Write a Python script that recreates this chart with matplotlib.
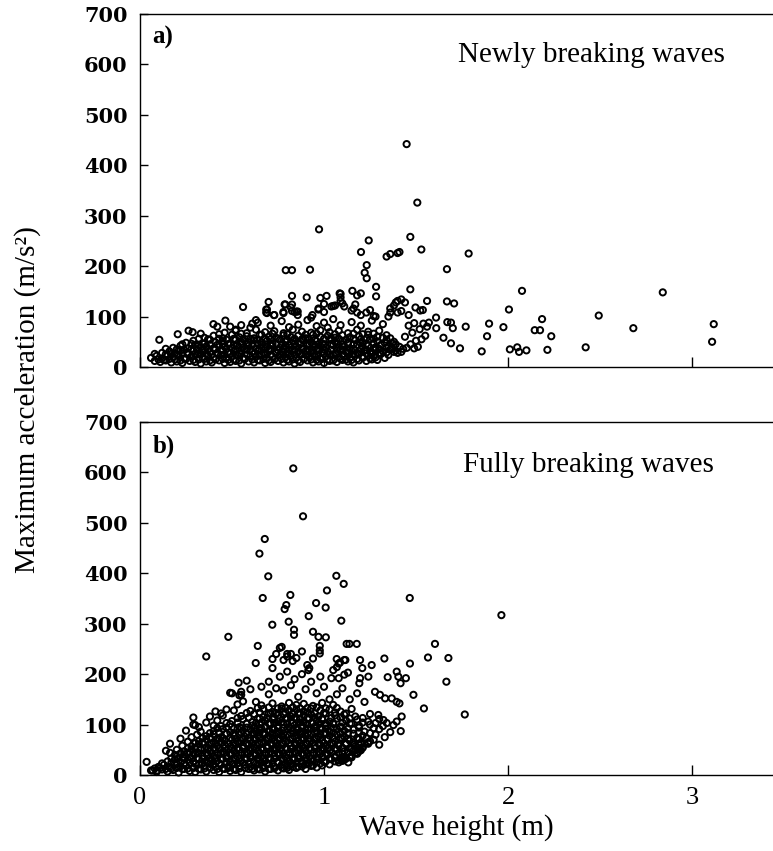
import matplotlib.pyplot as plt

# === data: (wave height [m], max acceleration [m/s2]) ===
# a) newly breaking waves - dense band
newly_band = [
    (0.08, 12), (0.11, 10), (0.14, 13), (0.17, 9), (0.20, 11), (0.23, 8), (0.27, 12), (0.30, 10),
    (0.33, 7), (0.36, 11), (0.39, 9), (0.43, 13), (0.46, 8), (0.49, 10), (0.52, 12), (0.55, 7),
    (0.59, 11), (0.62, 9), (0.65, 13), (0.68, 8), (0.71, 10), (0.75, 12), (0.78, 9), (0.81, 11),
    (0.84, 7), (0.87, 10), (0.91, 13), (0.94, 9), (0.97, 11), (1.00, 8), (1.03, 12), (1.07, 10),
    (1.10, 14), (1.13, 11), (1.16, 9), (1.19, 13), (1.23, 12), (1.26, 15), (1.29, 14),
    (0.10, 15), (0.13, 14), (0.16, 16), (0.19, 15), (0.22, 13), (0.25, 16), (0.29, 14), (0.32, 15),
    (0.35, 16), (0.38, 13), (0.41, 15), (0.45, 16), (0.48, 14), (0.51, 15), (0.54, 13), (0.57, 16),
    (0.61, 15), (0.64, 14), (0.67, 16), (0.70, 13), (0.73, 15), (0.77, 16), (0.80, 14), (0.83, 15),
    (0.86, 13), (0.89, 16), (0.93, 15), (0.96, 14), (0.99, 16), (1.02, 15), (1.05, 13), (1.09, 16),
    (1.12, 15), (1.15, 14), (1.18, 16), (1.21, 18), (1.25, 17), (1.28, 19), (1.33, 18),
    (0.06, 18), (0.09, 22), (0.12, 17), (0.15, 24), (0.18, 19), (0.21, 23), (0.24, 17), (0.28, 21),
    (0.31, 25), (0.34, 18), (0.37, 22), (0.40, 19), (0.44, 24), (0.47, 17), (0.50, 21), (0.53, 23),
    (0.56, 18), (0.60, 22), (0.63, 20), (0.66, 25), (0.69, 17), (0.72, 21), (0.76, 24), (0.79, 19),
    (0.82, 22), (0.85, 18), (0.88, 25), (0.92, 20), (0.95, 23), (0.98, 17), (1.01, 21), (1.05, 24),
    (1.08, 19), (1.11, 22), (1.14, 18), (1.17, 25), (1.21, 20), (1.24, 23), (1.27, 21), (1.31, 26),
    (1.35, 24), (1.40, 28),
    (0.08, 26), (0.14, 25), (0.17, 26), (0.20, 25), (0.23, 27), (0.26, 25), (0.30, 26), (0.33, 25),
    (0.36, 27), (0.39, 25), (0.42, 26), (0.46, 25), (0.49, 27), (0.52, 25), (0.55, 26), (0.58, 25),
    (0.62, 27), (0.65, 25), (0.68, 26), (0.71, 25), (0.74, 27), (0.78, 25), (0.81, 26), (0.84, 25),
    (0.87, 27), (0.90, 25), (0.94, 26), (0.97, 25), (1.00, 27), (1.03, 25), (1.07, 26), (1.10, 25),
    (1.13, 27), (1.16, 25), (1.19, 26), (1.23, 27), (1.26, 26), (1.30, 28), (1.34, 29), (1.38, 30),
    (0.12, 28), (0.16, 31), (0.19, 27), (0.22, 33), (0.26, 29), (0.29, 32), (0.32, 27), (0.35, 34),
    (0.38, 30), (0.42, 28), (0.45, 33), (0.48, 29), (0.51, 31), (0.54, 27), (0.58, 34), (0.61, 30),
    (0.64, 32), (0.67, 28), (0.70, 33), (0.74, 29), (0.77, 31), (0.80, 27), (0.83, 34), (0.86, 30),
    (0.90, 32), (0.93, 28), (0.96, 33), (0.99, 29), (1.02, 31), (1.06, 27), (1.09, 34), (1.12, 30),
    (1.15, 32), (1.18, 28), (1.22, 33), (1.25, 30), (1.28, 34), (1.32, 31), (1.36, 35), (1.39, 32),
    (1.43, 36),
    (0.14, 36), (0.20, 35), (0.24, 34), (0.28, 36), (0.31, 35), (0.34, 33), (0.37, 36), (0.41, 35),
    (0.44, 34), (0.47, 36), (0.52, 35), (0.55, 33), (0.57, 36), (0.60, 35), (0.65, 34), (0.68, 36),
    (0.71, 35), (0.75, 33), (0.78, 36), (0.81, 35), (0.84, 34), (0.88, 36), (0.91, 35), (0.94, 33),
    (0.97, 36), (1.00, 35), (1.04, 34), (1.07, 36), (1.10, 35), (1.13, 33), (1.16, 36), (1.20, 35),
    (1.23, 34), (1.27, 37), (1.30, 36), (1.34, 38), (1.37, 37), (1.41, 40),
    (0.18, 38), (0.22, 42), (0.26, 37), (0.30, 44), (0.33, 39), (0.36, 41), (0.40, 37), (0.43, 44),
    (0.46, 40), (0.50, 38), (0.53, 43), (0.56, 39), (0.59, 42), (0.63, 37), (0.66, 44), (0.69, 40),
    (0.72, 42), (0.76, 38), (0.79, 43), (0.82, 39), (0.85, 41), (0.89, 37), (0.92, 44), (0.95, 40),
    (0.98, 42), (1.01, 38), (1.05, 43), (1.08, 39), (1.11, 41), (1.14, 37), (1.18, 44), (1.21, 40),
    (1.24, 42), (1.28, 39), (1.31, 44), (1.35, 41), (1.39, 45),
    (0.23, 45), (0.28, 46), (0.32, 44), (0.35, 46), (0.38, 45), (0.42, 44), (0.45, 46), (0.48, 45),
    (0.51, 44), (0.55, 46), (0.58, 45), (0.61, 44), (0.64, 46), (0.68, 45), (0.71, 44), (0.74, 46),
    (0.77, 45), (0.81, 44), (0.84, 46), (0.87, 45), (0.91, 44), (0.94, 46), (0.97, 45), (1.00, 44),
    (1.04, 46), (1.07, 45), (1.10, 44), (1.13, 46), (1.16, 45), (1.20, 47), (1.23, 46), (1.27, 47),
    (1.33, 48), (1.37, 47),
    (0.25, 48), (0.29, 52), (0.34, 47), (0.38, 54), (0.41, 49), (0.45, 51), (0.49, 47), (0.52, 54),
    (0.55, 50), (0.59, 48), (0.62, 53), (0.66, 49), (0.69, 52), (0.72, 47), (0.76, 54), (0.79, 50),
    (0.83, 52), (0.86, 48), (0.89, 53), (0.93, 49), (0.96, 51), (0.99, 47), (1.03, 54), (1.06, 50),
    (1.10, 52), (1.13, 48), (1.17, 53), (1.21, 49), (1.25, 55), (1.29, 51), (1.34, 54), (1.38, 50),
    (0.32, 56), (0.37, 55), (0.43, 56), (0.47, 54), (0.51, 56), (0.56, 55), (0.60, 56), (0.64, 54),
    (0.68, 56), (0.71, 55), (0.75, 56), (0.80, 54), (0.84, 56), (0.88, 55), (0.91, 56), (0.95, 54),
    (1.00, 56), (1.04, 55), (1.08, 56), (1.12, 54), (1.16, 56), (1.20, 55), (1.23, 57), (1.27, 56),
    (1.32, 58), (1.36, 57),
    (0.35, 58), (0.40, 62), (0.45, 57), (0.50, 64), (0.54, 59), (0.58, 61), (0.62, 57), (0.66, 64),
    (0.70, 60), (0.74, 58), (0.78, 63), (0.82, 59), (0.86, 62), (0.90, 57), (0.94, 64), (0.98, 60),
    (1.02, 62), (1.06, 58), (1.10, 63), (1.14, 59), (1.19, 61), (1.24, 64), (1.29, 60), (1.34, 63),
    (0.43, 65), (0.55, 66), (0.65, 64), (0.72, 66), (0.80, 65), (0.90, 64), (0.96, 66), (1.06, 65),
    (1.16, 66), (1.21, 65), (1.27, 66),
    (0.46, 68), (0.52, 72), (0.58, 67), (0.63, 74), (0.68, 69), (0.73, 71), (0.78, 67), (0.83, 74),
    (0.88, 70), (0.93, 68), (0.98, 73), (1.03, 69), (1.08, 72), (1.13, 67), (1.18, 74), (1.24, 70),
    (1.30, 72),
    (0.42, 80), (0.55, 83), (0.64, 88), (0.71, 82), (0.77, 91), (0.86, 84), (0.91, 93), (0.96, 81),
    (1.00, 88), (1.05, 95), (1.09, 83), (1.15, 89), (1.20, 82), (1.26, 92), (1.32, 85), (0.60, 78),
    (0.81, 79), (1.02, 78),
    (1.42, 30), (1.45, 38), (1.47, 45), (1.50, 52), (1.44, 60), (1.48, 68), (1.52, 75), (1.46, 82),
    (1.55, 62), (1.51, 40), (1.53, 55), (1.49, 87),
]
# a) points standing out from the band
newly_scatter = [
    (0.686, 114), (0.686, 108), (0.728, 103), (0.779, 109), (0.79, 124), (0.826, 124), (0.826, 111),
    (0.857, 110), (0.857, 103), (0.937, 103), (0.97, 114), (1.00, 109), (1.00, 125), (1.04, 120),
    (1.05, 121), (1.09, 131), (1.10, 126), (1.11, 120), (1.15, 112), (1.16, 116), (1.17, 124),
    (1.18, 108), (1.20, 103), (1.23, 108), (1.25, 113), (1.28, 100), (1.27, 101), (1.36, 108),
    (1.40, 108), (1.42, 111), (1.46, 103),
    (0.205, 65), (0.264, 72), (0.286, 69), (0.33, 66), (0.399, 85), (0.464, 92), (0.49, 80),
    (0.52, 74), (0.61, 86), (0.63, 93), (0.69, 114), (0.69, 107), (0.73, 103), (0.786, 124),
    (0.78, 107), (0.82, 118), (0.84, 109), (0.85, 110), (0.93, 98), (0.98, 137), (0.97, 116),
    (1.06, 122), (1.09, 145), (1.09, 138),
]
newly_outliers = [
    (1.449, 442), (1.507, 326), (0.973, 273), (1.469, 258), (1.243, 251), (1.201, 228), (1.529, 233),
    (1.34, 219), (1.36, 224), (1.40, 226), (1.41, 228), (1.786, 225), (1.232, 202), (1.221, 187),
    (1.232, 176), (0.792, 192), (0.826, 192), (0.924, 193), (1.668, 194), (0.560, 119), (0.105, 54),
    (2.076, 151), (2.005, 114), (1.469, 154), (1.283, 159), (1.154, 151), (1.085, 146), (0.826, 141),
    (0.906, 138), (1.014, 141), (0.699, 129), (1.18, 142), (1.20, 146), (1.283, 140), (1.560, 131),
    (1.668, 130), (1.707, 126), (1.609, 98), (1.61, 77), (1.67, 89), (1.69, 88), (1.70, 77),
    (1.77, 80), (1.897, 86), (1.975, 79), (1.886, 61), (1.649, 58), (1.69, 47), (1.739, 37),
    (1.857, 31), (2.01, 35), (2.05, 39), (2.06, 30), (2.10, 33), (1.49, 37), (1.56, 80), (1.54, 86),
    (1.57, 88), (1.497, 118), (1.523, 112), (1.537, 113), (1.40, 131), (1.42, 134), (1.44, 128),
    (1.35, 100), (1.36, 116), (1.38, 122), (1.39, 128), (2.841, 148), (2.493, 102), (2.185, 95),
    (2.145, 73), (2.174, 73), (2.235, 61), (2.681, 77), (3.118, 85), (3.109, 50), (2.422, 39),
    (2.214, 34),
]

# b) fully breaking waves - dense band
fully_band = [
    (0.06, 9), (0.09, 6), (0.12, 11), (0.15, 7), (0.18, 10), (0.21, 5), (0.24, 12), (0.27, 8),
    (0.30, 6), (0.33, 11), (0.36, 7), (0.40, 10), (0.43, 6), (0.46, 12), (0.49, 8), (0.52, 10),
    (0.55, 6), (0.59, 12), (0.62, 9), (0.65, 11), (0.68, 7), (0.71, 12), (0.75, 9), (0.78, 13),
    (0.81, 10), (0.85, 14), (0.90, 12), (0.96, 15),
    (0.08, 13), (0.11, 14), (0.14, 12), (0.17, 13), (0.20, 14), (0.23, 12), (0.26, 13), (0.29, 14),
    (0.32, 12), (0.35, 13), (0.38, 14), (0.42, 12), (0.45, 13), (0.48, 14), (0.51, 12), (0.54, 13),
    (0.57, 14), (0.61, 12), (0.64, 13), (0.67, 14), (0.70, 12), (0.73, 13), (0.77, 15), (0.80, 14),
    (0.83, 16), (0.88, 17), (0.93, 18), (0.99, 19),
    (0.10, 16), (0.13, 20), (0.16, 15), (0.19, 22), (0.22, 17), (0.25, 19), (0.29, 15), (0.32, 21),
    (0.35, 18), (0.38, 22), (0.41, 16), (0.44, 20), (0.48, 17), (0.51, 22), (0.54, 18), (0.57, 20),
    (0.60, 16), (0.64, 21), (0.67, 18), (0.70, 22), (0.73, 17), (0.77, 20), (0.80, 18), (0.83, 22),
    (0.86, 17), (0.90, 21), (0.94, 19), (0.98, 23), (1.03, 21), (1.08, 25),
    (0.12, 23), (0.17, 24), (0.20, 22), (0.24, 23), (0.27, 24), (0.30, 22), (0.34, 23), (0.37, 24),
    (0.40, 22), (0.43, 23), (0.47, 24), (0.50, 22), (0.53, 23), (0.56, 24), (0.59, 22), (0.63, 23),
    (0.66, 24), (0.69, 22), (0.72, 23), (0.75, 24), (0.79, 22), (0.82, 23), (0.85, 24), (0.88, 22),
    (0.92, 23), (0.96, 25), (1.00, 26), (1.06, 27), (1.10, 28),
    (0.15, 27), (0.19, 31), (0.22, 25), (0.26, 30), (0.29, 27), (0.32, 32), (0.36, 26), (0.39, 30),
    (0.42, 28), (0.45, 32), (0.49, 26), (0.52, 31), (0.55, 28), (0.58, 32), (0.62, 26), (0.65, 30),
    (0.68, 28), (0.71, 32), (0.75, 26), (0.78, 31), (0.81, 28), (0.84, 32), (0.88, 27), (0.91, 30),
    (0.94, 28), (0.97, 32), (1.01, 27), (1.04, 31), (1.08, 29), (1.12, 33),
    (0.17, 33), (0.21, 34), (0.24, 32), (0.28, 33), (0.31, 34), (0.34, 32), (0.38, 33), (0.41, 34),
    (0.44, 32), (0.47, 33), (0.51, 34), (0.54, 32), (0.57, 33), (0.60, 34), (0.64, 32), (0.67, 33),
    (0.70, 34), (0.73, 32), (0.77, 33), (0.80, 34), (0.83, 32), (0.86, 33), (0.90, 34), (0.93, 32),
    (0.96, 33), (0.99, 34), (1.03, 33), (1.06, 35), (1.10, 36), (1.14, 35),
    (0.20, 37), (0.24, 41), (0.27, 35), (0.30, 42), (0.34, 38), (0.37, 40), (0.40, 36), (0.44, 42),
    (0.47, 38), (0.50, 41), (0.53, 36), (0.57, 42), (0.60, 38), (0.63, 40), (0.66, 36), (0.70, 42),
    (0.73, 38), (0.76, 41), (0.79, 36), (0.83, 42), (0.86, 38), (0.89, 40), (0.92, 36), (0.96, 42),
    (0.99, 38), (1.02, 41), (1.06, 37), (1.10, 42), (1.15, 39),
    (0.22, 43), (0.26, 44), (0.29, 42), (0.32, 43), (0.36, 44), (0.39, 42), (0.42, 43), (0.46, 44),
    (0.49, 42), (0.52, 43), (0.55, 44), (0.59, 42), (0.62, 43), (0.65, 44), (0.68, 42), (0.72, 43),
    (0.75, 44), (0.78, 42), (0.81, 43), (0.85, 44), (0.88, 42), (0.91, 43), (0.94, 44), (0.98, 42),
    (1.01, 43), (1.04, 44), (1.08, 43), (1.13, 45), (1.18, 44),
    (0.24, 47), (0.28, 51), (0.31, 45), (0.35, 52), (0.38, 48), (0.41, 50), (0.45, 46), (0.48, 52),
    (0.51, 48), (0.54, 50), (0.58, 45), (0.61, 52), (0.64, 48), (0.67, 50), (0.71, 46), (0.74, 52),
    (0.77, 48), (0.80, 51), (0.84, 46), (0.87, 52), (0.90, 48), (0.93, 50), (0.97, 46), (1.00, 52),
    (1.03, 48), (1.07, 51), (1.11, 47), (1.15, 52), (1.20, 49),
    (0.26, 53), (0.30, 54), (0.33, 52), (0.37, 53), (0.40, 54), (0.43, 52), (0.46, 53), (0.50, 54),
    (0.53, 52), (0.56, 53), (0.60, 54), (0.63, 52), (0.66, 53), (0.69, 54), (0.73, 52), (0.76, 53),
    (0.79, 54), (0.82, 52), (0.86, 53), (0.89, 54), (0.92, 52), (0.95, 53), (0.99, 54), (1.02, 52),
    (1.06, 53), (1.10, 54), (1.14, 53), (1.18, 55), (1.21, 54),
    (0.28, 57), (0.32, 61), (0.36, 55), (0.39, 62), (0.42, 58), (0.46, 60), (0.49, 56), (0.52, 62),
    (0.56, 58), (0.59, 60), (0.62, 55), (0.65, 62), (0.69, 58), (0.72, 60), (0.75, 56), (0.78, 62),
    (0.82, 58), (0.85, 61), (0.88, 56), (0.91, 62), (0.95, 58), (0.98, 60), (1.01, 56), (1.05, 62),
    (1.08, 58), (1.12, 61), (1.17, 57), (1.22, 62),
    (0.30, 63), (0.34, 64), (0.38, 62), (0.41, 63), (0.44, 64), (0.48, 62), (0.51, 63), (0.54, 64),
    (0.58, 62), (0.61, 63), (0.64, 64), (0.67, 62), (0.71, 63), (0.74, 64), (0.77, 62), (0.81, 63),
    (0.84, 64), (0.87, 62), (0.90, 63), (0.94, 64), (0.97, 62), (1.00, 63), (1.04, 64), (1.08, 62),
    (1.12, 63), (1.16, 64), (1.20, 63), (1.24, 65),
    (0.32, 67), (0.36, 71), (0.40, 65), (0.43, 72), (0.46, 68), (0.50, 70), (0.53, 66), (0.56, 72),
    (0.60, 68), (0.63, 70), (0.66, 65), (0.70, 72), (0.73, 68), (0.76, 70), (0.79, 66), (0.83, 72),
    (0.86, 68), (0.89, 71), (0.92, 66), (0.96, 72), (0.99, 68), (1.02, 70), (1.06, 66), (1.10, 72),
    (1.14, 68), (1.19, 71), (1.25, 67),
    (0.34, 73), (0.38, 74), (0.42, 72), (0.45, 73), (0.49, 74), (0.52, 72), (0.55, 73), (0.59, 74),
    (0.62, 72), (0.65, 73), (0.69, 74), (0.72, 72), (0.75, 73), (0.78, 74), (0.82, 72), (0.85, 73),
    (0.88, 74), (0.92, 72), (0.95, 73), (0.98, 74), (1.02, 72), (1.05, 73), (1.09, 74), (1.13, 72),
    (1.18, 74), (1.23, 73),
    (0.36, 77), (0.40, 81), (0.44, 75), (0.47, 82), (0.51, 78), (0.54, 80), (0.57, 76), (0.61, 82),
    (0.64, 78), (0.67, 80), (0.71, 75), (0.74, 82), (0.77, 78), (0.80, 80), (0.84, 76), (0.87, 82),
    (0.90, 78), (0.93, 81), (0.97, 76), (1.00, 82), (1.03, 78), (1.07, 80), (1.11, 76), (1.16, 82),
    (1.21, 78), (1.28, 80),
    (0.38, 83), (0.43, 84), (0.47, 82), (0.51, 83), (0.55, 84), (0.58, 82), (0.62, 83), (0.65, 84),
    (0.68, 82), (0.72, 83), (0.75, 84), (0.78, 82), (0.82, 83), (0.85, 84), (0.88, 82), (0.91, 83),
    (0.95, 84), (0.98, 82), (1.01, 83), (1.05, 84), (1.09, 82), (1.13, 83), (1.19, 84), (1.25, 83),
    (0.40, 87), (0.45, 91), (0.49, 85), (0.53, 92), (0.56, 88), (0.60, 90), (0.63, 86), (0.66, 92),
    (0.70, 88), (0.73, 90), (0.76, 85), (0.80, 92), (0.83, 88), (0.86, 90), (0.89, 86), (0.93, 92),
    (0.96, 88), (0.99, 91), (1.03, 86), (1.07, 92), (1.11, 88), (1.16, 90), (1.22, 86), (1.30, 91),
    (0.42, 93), (0.47, 94), (0.51, 92), (0.55, 93), (0.58, 94), (0.62, 92), (0.65, 93), (0.68, 94),
    (0.72, 92), (0.75, 93), (0.78, 94), (0.82, 92), (0.85, 93), (0.88, 94), (0.91, 92), (0.95, 93),
    (0.98, 94), (1.01, 92), (1.05, 93), (1.09, 94), (1.13, 92), (1.19, 94), (1.27, 93),
    (0.44, 97), (0.49, 101), (0.54, 95), (0.58, 102), (0.61, 98), (0.65, 100), (0.68, 96), (0.71, 102),
    (0.75, 98), (0.78, 100), (0.81, 95), (0.85, 102), (0.88, 98), (0.91, 100), (0.95, 96), (0.98, 102),
    (1.01, 98), (1.05, 101), (1.09, 96), (1.14, 102), (1.19, 98), (1.25, 100), (1.32, 97),
    (0.47, 103), (0.53, 104), (0.58, 102), (0.63, 103), (0.66, 104), (0.70, 102), (0.73, 103),
    (0.77, 104), (0.80, 102), (0.83, 103), (0.87, 104), (0.90, 102), (0.94, 103), (0.97, 104),
    (1.01, 102), (1.05, 103), (1.10, 104), (1.15, 102), (1.21, 104), (1.28, 103),
    (0.50, 107), (0.56, 111), (0.61, 105), (0.65, 112), (0.68, 108), (0.72, 110), (0.75, 106),
    (0.79, 112), (0.82, 108), (0.85, 110), (0.89, 105), (0.92, 112), (0.96, 108), (0.99, 110),
    (1.03, 106), (1.07, 112), (1.12, 108), (1.18, 110), (1.24, 106), (1.30, 111),
    (0.53, 113), (0.59, 114), (0.64, 112), (0.69, 113), (0.73, 114), (0.76, 112), (0.80, 113),
    (0.84, 114), (0.87, 112), (0.91, 113), (0.95, 114), (0.99, 112), (1.04, 113), (1.09, 114),
    (1.14, 112), (1.21, 113),
    (0.55, 117), (0.62, 121), (0.67, 115), (0.71, 122), (0.75, 118), (0.78, 120), (0.82, 116),
    (0.86, 122), (0.89, 118), (0.93, 120), (0.97, 116), (1.01, 122), (1.06, 118), (1.11, 120),
    (1.17, 116), (1.25, 121),
    (0.58, 123), (0.65, 124), (0.70, 122), (0.74, 123), (0.79, 124), (0.83, 122), (0.87, 123),
    (0.91, 124), (0.95, 122), (1.00, 123), (1.06, 124), (1.12, 122),
    (0.60, 127), (0.67, 131), (0.72, 125), (0.77, 132), (0.81, 128), (0.85, 130), (0.89, 126),
    (0.93, 132), (0.98, 128), (1.03, 130), (1.09, 126), (1.15, 131),
    (0.64, 133), (0.70, 134), (0.75, 132), (0.79, 133), (0.83, 134), (0.87, 132), (0.91, 133),
    (0.96, 134), (1.01, 132), (1.07, 133),
    (0.66, 138), (0.72, 142), (0.77, 136), (0.81, 143), (0.85, 139), (0.89, 141), (0.94, 137),
    (0.99, 143), (1.05, 139),
]
# b) points standing out from the band
fully_scatter = [
    (0.50, 162), (0.536, 183), (0.58, 187), (0.63, 145), (0.55, 165), (0.55, 159), (0.56, 146),
    (0.49, 163), (0.54, 158), (0.70, 160), (0.74, 172), (0.78, 168), (0.82, 178), (0.86, 155),
    (0.90, 170), (0.93, 185), (0.96, 162), (1.00, 175), (1.03, 150), (0.76, 195), (0.80, 205),
    (0.84, 190), (0.72, 212), (0.88, 200), (0.92, 212), (0.70, 185), (0.66, 175), (0.60, 170),
    (0.98, 195), (1.07, 160), (1.10, 172), (1.14, 150), (1.18, 162), (1.22, 145),
    (0.29, 114), (0.29, 100), (0.30, 99), (0.32, 95), (0.36, 104), (0.38, 116), (0.41, 126),
    (0.163, 62), (0.141, 48), (0.163, 44), (0.036, 26), (0.235, 35), (0.069, 9), (0.094, 9),
    (0.20, 50), (0.23, 58), (0.26, 66), (0.28, 75), (0.31, 80), (0.33, 86), (0.25, 88), (0.22, 72),
    (0.19, 40), (0.42, 108), (0.45, 118), (0.40, 98), (0.47, 130), (0.51, 128), (0.53, 140),
    (0.44, 122),
    (1.15, 35), (1.18, 42), (1.21, 55), (1.24, 62), (1.27, 70), (1.13, 44), (1.16, 60), (1.30, 60),
    (1.33, 75), (1.36, 85),
]
fully_outliers = [
    (0.833, 608), (0.886, 513), (0.678, 468), (0.649, 439), (0.697, 394), (1.067, 395), (1.107, 379),
    (1.016, 366), (0.817, 357), (0.667, 351), (1.466, 351), (1.964, 317), (0.957, 341), (1.009, 332),
    (0.786, 329), (0.795, 337), (0.917, 315), (0.808, 304), (1.094, 306), (0.719, 298), (0.837, 288),
    (0.837, 278), (0.94, 284), (0.97, 274), (1.01, 273), (0.48, 274), (0.36, 235), (0.64, 256),
    (0.629, 222), (0.977, 256), (0.977, 247), (0.977, 241), (0.94, 231), (1.123, 260), (1.138, 260),
    (1.178, 260), (0.76, 252), (0.77, 254), (0.80, 240), (0.82, 240), (0.74, 240), (1.328, 231),
    (1.565, 233), (1.676, 232), (1.603, 260), (1.467, 221), (1.665, 185), (1.765, 120), (1.486, 159),
    (1.543, 132), (1.346, 194), (1.395, 205), (1.404, 195), (1.416, 182), (1.445, 192), (1.196, 228),
    (1.208, 212), (1.259, 218), (1.241, 195), (1.196, 192), (1.192, 182), (1.11, 228), (1.08, 221),
    (1.07, 214), (1.05, 208), (1.04, 192), (1.08, 192), (1.11, 199), (1.13, 203), (1.295, 119),
    (1.323, 109), (1.341, 103), (1.377, 99), (1.395, 106), (1.422, 116), (1.417, 87), (1.188, 71),
    (1.19, 51), (1.19, 47), (1.132, 25), (1.098, 32), (1.114, 31), (1.277, 165), (1.304, 159),
    (1.332, 152), (1.368, 152), (1.395, 145), (1.41, 142), (1.16, 48), (0.909, 218), (0.915, 208),
    (1.069, 230), (1.087, 223), (1.116, 228), (0.78, 228), (0.80, 235), (0.83, 226), (0.85, 232),
    (0.88, 245), (0.72, 230),
]

x_ticks = [0, 1, 2, 3]
y_ticks = [0, 100, 200, 300, 400, 500, 600, 700]
panels = [
    ("a)", "Newly breaking waves", newly_band + newly_scatter + newly_outliers),
    ("b)", "Fully breaking waves", fully_band + fully_scatter + fully_outliers),
]

serif = "Liberation Serif"
W, H = 773, 851
fig = plt.figure(figsize=(W / 100, H / 100), dpi=100)

# axes boxes in pixels: left 140, bottoms at 367 and 775, height 353
for i, (tag, title, pts) in enumerate(panels):
    bottom_px = 367 if i == 0 else 775
    ax = fig.add_axes([140 / W, 1 - bottom_px / H, (W - 140) / W, 353 / H])
    xs = [p[0] for p in pts]
    ys = [p[1] for p in pts]
    ax.scatter(xs, ys, s=20, facecolors="none", edgecolors="black", linewidths=1.4, clip_on=False)

    ax.set_xlim(0, 3.44)
    ax.set_ylim(0, 700)
    ax.set_xticks(x_ticks)
    ax.set_yticks(y_ticks)
    ax.spines["right"].set_visible(False)
    for sp in ax.spines.values():
        sp.set_linewidth(1.0)
    ax.tick_params(axis="x", direction="in", length=7, width=1.0, pad=9)
    ax.tick_params(axis="y", direction="in", length=6, width=1.0, pad=9)
    for lab in ax.get_yticklabels():
        lab.set_fontfamily("DejaVu Serif")
        lab.set_fontweight("bold")
        lab.set_fontsize(15)
    if i == 0:
        ax.set_xticklabels([])
    else:
        ax.set_xticklabels([str(t) for t in x_ticks], fontfamily=serif, fontsize=19)
        ax.set_xlabel("Wave height (m)", fontfamily=serif, fontsize=21, labelpad=3)

    ax.text(0.02, 0.965, tag, transform=ax.transAxes, ha="left", va="top",
            fontfamily=serif, fontsize=18, fontweight="bold")
    ax.text(0.502 if i == 0 else 0.51, 0.884 if i == 0 else 0.878, title,
            transform=ax.transAxes, ha="left", va="center", fontfamily=serif, fontsize=21)

fig.text(0.035, 1 - 400 / H, "Maximum acceleration (m/s²)", rotation=90, ha="center", va="center",
         fontfamily=serif, fontsize=21)

plt.savefig("out.png", dpi=100)
